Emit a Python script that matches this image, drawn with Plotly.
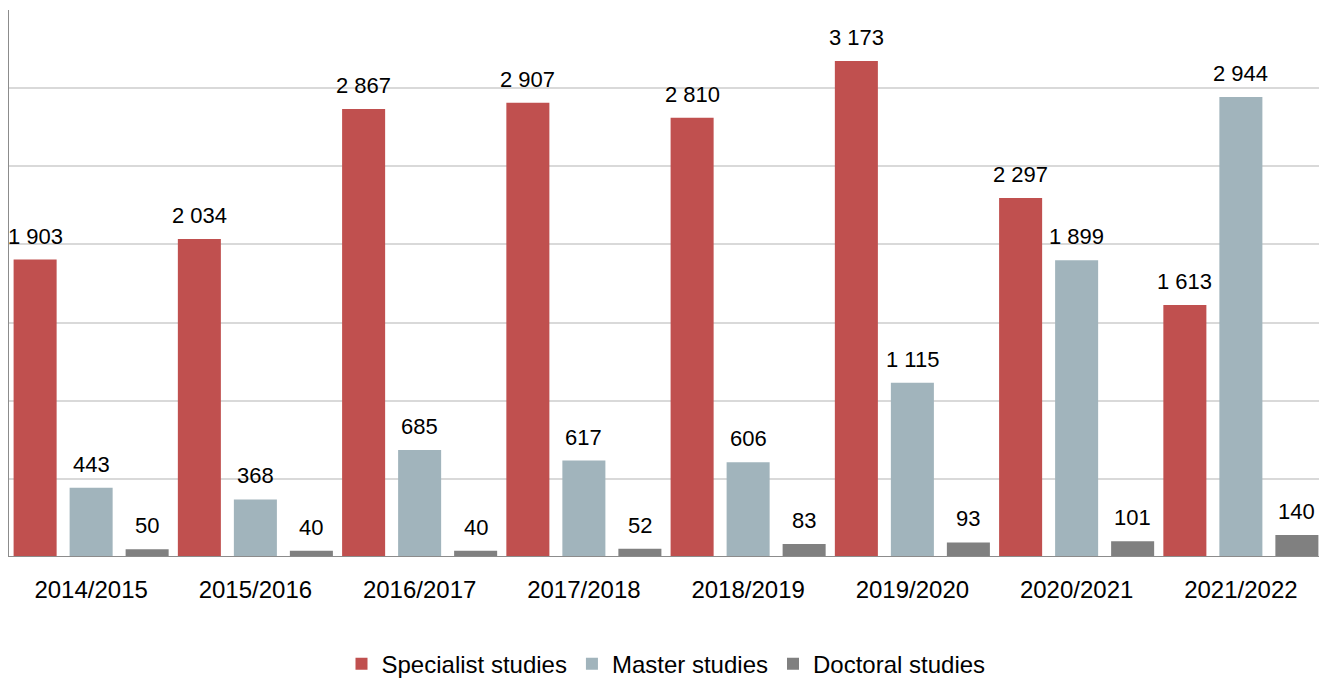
import plotly.graph_objects as go

years = ["2014/2015", "2015/2016", "2016/2017", "2017/2018",
         "2018/2019", "2019/2020", "2020/2021", "2021/2022"]
specialist = [1903, 2034, 2867, 2907, 2810, 3173, 2297, 1613]
master = [443, 368, 685, 617, 606, 1115, 1899, 2944]
doctoral = [50, 40, 40, 52, 83, 93, 101, 140]

series = [
    ("Specialist studies", specialist, "#C0504F"),
    ("Master studies", master, "#A1B4BC"),
    ("Doctoral studies", doctoral, "#808080"),
]

FONT = "Liberation Sans, Arial, sans-serif"
bar_w = 0.262
centers = [-0.341, 0.0, 0.341]

fig = go.Figure()
annotations = []
for (name, vals, col), c in zip(series, centers):
    fig.add_trace(go.Bar(
        x=list(range(len(years))), y=vals, name=name,
        marker=dict(color=col, line=dict(width=0)),
        width=bar_w, offset=c - bar_w / 2,
    ))
    for i, v in enumerate(vals):
        annotations.append(dict(
            x=i + c, y=v, xref="x", yref="y",
            text=f"{v:,}".replace(",", " "),
            showarrow=False, yanchor="bottom", yshift=9,
            font=dict(family=FONT, size=22, color="#000000"),
        ))

fig.update_layout(
    width=1319, height=671,
    margin=dict(l=1, r=4, t=2, b=122, autoexpand=False),
    barmode="overlay",
    plot_bgcolor="white", paper_bgcolor="white",
    font=dict(family=FONT, size=24, color="#000000"),
    showlegend=True,
    legend=dict(orientation="h", x=0.5, xanchor="center",
                yref="container", y=0.022, yanchor="middle",
                font=dict(size=24, family=FONT),
                traceorder="normal", itemwidth=30),
    annotations=annotations,
)
fig.update_xaxes(
    tickmode="array", tickvals=list(range(len(years))), ticktext=years,
    range=[-0.5, len(years) - 0.5], automargin=False,
    showgrid=False, zeroline=False, showline=False,
    tickfont=dict(size=24, family=FONT), ticks="", ticklabelstandoff=16,
)
fig.update_yaxes(
    range=[0, 3500], dtick=500, showgrid=True, gridcolor="#D9D9D9",
    gridwidth=1.5, showticklabels=False, zeroline=False, automargin=False,
    showline=True, linecolor="#8C8C8C", linewidth=2, mirror=False,
)
# bottom axis line
fig.add_shape(type="line", xref="paper", yref="y", x0=0, x1=1, y0=0, y1=0,
              line=dict(color="#8C8C8C", width=2))

fig.write_html("out.html")
